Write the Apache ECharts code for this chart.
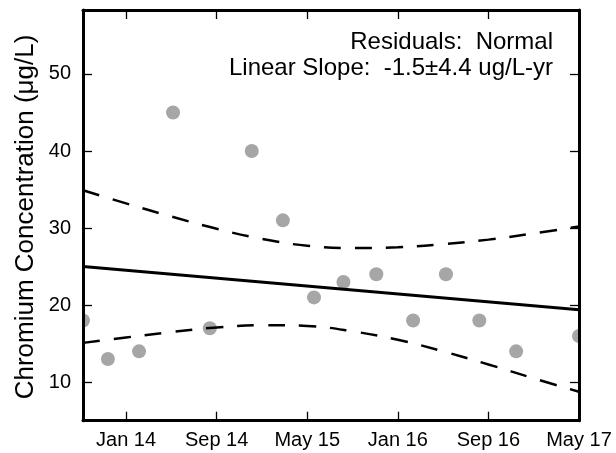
<!DOCTYPE html>
<html>
<head>
<meta charset="utf-8">
<script src="https://cdn.jsdelivr.net/npm/echarts@6/dist/echarts.min.js"></script>
<style>html,body{margin:0;padding:0;background:#fff}#c{width:616px;height:453px}</style>
</head>
<body>
<div id="c"></div>
<script>
// months counted from Jan 2013 (Jan 14 = 12)
const xTickMonths = [12, 20, 28, 36, 44, 52];
const xTickLabels = ['Jan 14', 'Sep 14', 'May 15', 'Jan 16', 'Sep 16', 'May 17'];
const yTicks = [10, 20, 30, 40, 50];
const sampleMonths = [8.2, 10.4, 13.15, 16.15, 19.4, 23.1, 25.85, 28.6, 31.2, 34.1, 37.35, 40.25, 43.2, 46.45, 52.0];
const chromium = [18, 13, 14, 45, 17, 40, 31, 21, 23, 24, 18, 24, 18, 14, 16];
const trendMonths = [8.2, 52];
const trendValues = [25.0, 19.4];
const bandMonths = [8.2, 12, 16, 20, 24, 28, 32, 36, 40, 44, 48, 52];
const upperBand = [34.9, 33.2, 31.5, 29.9, 28.6, 27.7, 27.4, 27.5, 27.9, 28.5, 29.3, 30.2];
const lowerBand = [15.1, 15.8, 16.5, 17.1, 17.4, 17.3, 16.6, 15.5, 14.0, 12.3, 10.5, 8.75];
const annotation1 = 'Residuals:  Normal';
const annotation2 = 'Linear Slope:  -1.5\u00b14.4 ug/L-yr';
const yTitle = 'Chromium Concentration (\u03bcg/L)';

const FONT = 'Liberation Sans, Arial, Helvetica, sans-serif';
const xMin = 8.2, xMax = 52, yMin = 5, yMax = 58.3;

const chart = echarts.init(document.getElementById('c'), null, {renderer: 'canvas'});
const zip = (a, b) => a.map((v, i) => [v, b[i]]);
const labelOf = {};
xTickMonths.forEach((m, i) => { labelOf[m] = xTickLabels[i]; });

function xAx(pos, show) {
  return {
    type: 'value', position: pos, min: xMin, max: xMax, z: 10,
    axisLine: {show: true, onZero: false, lineStyle: {color: '#000', width: 3}},
    axisTick: {show: true, inside: true, length: 9, customValues: xTickMonths, lineStyle: {color: '#000', width: 1.3}},
    axisLabel: {show: show, customValues: xTickMonths, margin: 10, fontSize: 20, color: '#000', fontFamily: FONT,
      formatter: v => labelOf[v] || ''},
    splitLine: {show: false}
  };
}
function yAx(pos, show) {
  return {
    type: 'value', position: pos, min: yMin, max: yMax, z: 10,
    axisLine: {show: true, onZero: false, lineStyle: {color: '#000', width: 3}},
    axisTick: {show: true, inside: true, length: 9, customValues: yTicks, lineStyle: {color: '#000', width: 1.3}},
    axisLabel: {show: show, customValues: yTicks, margin: 12, fontSize: 20, color: '#000', fontFamily: FONT},
    splitLine: {show: false}
  };
}

chart.setOption({
  animation: false,
  backgroundColor: '#fff',
  grid: {left: 83, top: 10, width: 496, height: 410.7, containLabel: false, outerBoundsMode: 'none'},
  xAxis: [xAx('bottom', true), xAx('top', false)],
  yAxis: [yAx('left', true), yAx('right', false)],
  series: [
    {
      type: 'custom', clip: true, z: 3,
      data: zip(sampleMonths, chromium),
      encode: {x: 0, y: 1},
      renderItem: (params, api) => {
        const p = api.coord([api.value(0), api.value(1)]);
        return {type: 'circle', shape: {cx: p[0], cy: p[1], r: 7}, style: {fill: '#a6a6a6'}};
      }
    },
    {
      type: 'line', data: zip(trendMonths, trendValues), showSymbol: false, clip: true, z: 4,
      lineStyle: {color: '#000', width: 3}
    },
    {
      type: 'line', data: zip(bandMonths, upperBand), showSymbol: false, smooth: 0.4, clip: true, z: 4,
      lineStyle: {color: '#000', width: 2.5, type: [17, 14]}
    },
    {
      type: 'line', data: zip(bandMonths, lowerBand), showSymbol: false, smooth: 0.4, clip: true, z: 4,
      lineStyle: {color: '#000', width: 2.5, type: [17, 14]}
    }
  ],
  graphic: [
    {type: 'text', x: 553, y: 42, z: 20, style: {text: annotation1, textAlign: 'right', textVerticalAlign: 'middle', font: '24px ' + FONT, fill: '#000'}},
    {type: 'text', x: 553, y: 68, z: 20, style: {text: annotation2, textAlign: 'right', textVerticalAlign: 'middle', font: '24px ' + FONT, fill: '#000'}},
    {type: 'text', x: 26, y: 217, rotation: Math.PI / 2, z: 20, style: {text: yTitle, textAlign: 'center', textVerticalAlign: 'middle', font: '26px ' + FONT, fill: '#000'}}
  ]
});
</script>
</body>
</html>
